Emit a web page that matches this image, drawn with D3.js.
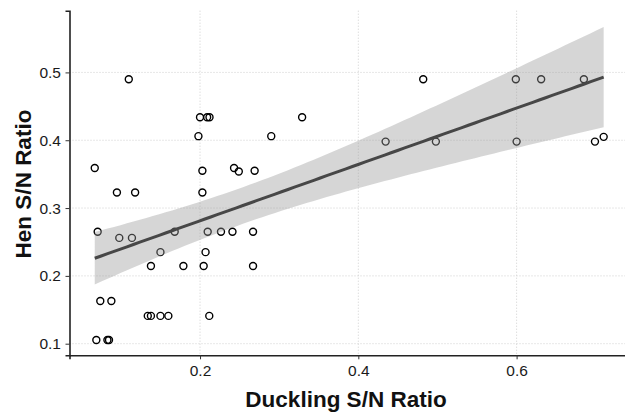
<!DOCTYPE html>
<html>
<head>
<meta charset="utf-8">
<script src="https://cdn.jsdelivr.net/npm/d3@7"></script>
<style>
  body { margin: 0; background: #fff; }
  svg { display: block; font-family: "Liberation Sans", Arial, sans-serif; }
</style>
</head>
<body>
<div class="vis-scatter"></div>
<script>
// duckling vs hen S/N ratio
const ducklingSN = [
  0.110, 0.200, 0.209, 0.212, 0.198, 0.067, 0.095, 0.118, 0.203, 0.203,
  0.243, 0.249, 0.269, 0.290, 0.329,
  0.482, 0.599, 0.631, 0.685, 0.4345, 0.498, 0.600, 0.699, 0.710,
  0.0707, 0.098, 0.114, 0.168, 0.150, 0.138, 0.179, 0.2046, 0.207, 0.2097,
  0.2265, 0.241, 0.267, 0.267, 0.074, 0.088, 0.134, 0.138, 0.150, 0.160,
  0.2117, 0.069, 0.083, 0.085
];
const henSN = [
  0.490, 0.434, 0.434, 0.434, 0.406, 0.359, 0.323, 0.323, 0.355, 0.323,
  0.359, 0.354, 0.355, 0.406, 0.434,
  0.490, 0.490, 0.490, 0.490, 0.398, 0.398, 0.398, 0.398, 0.405,
  0.265, 0.256, 0.256, 0.265, 0.235, 0.2146, 0.2146, 0.2146, 0.235, 0.265,
  0.265, 0.265, 0.265, 0.2146, 0.163, 0.163, 0.141, 0.141, 0.141, 0.141,
  0.141, 0.1055, 0.1055, 0.1055
];
const xTicks = [0.2, 0.4, 0.6];
const yTicks = [0.1, 0.2, 0.3, 0.4, 0.5];

const W = 625, H = 415;
const margin = { left: 69.5, right: 629, top: 10.7, bottom: 355.3 };

const svg = d3.select(".vis-scatter").append("svg")
  .attr("width", W).attr("height", H);

const x = d3.scaleLinear().domain([0.0351, 0.742]).range([margin.left, margin.right]);
const y = d3.scaleLinear().domain([0.0829, 0.591]).range([margin.bottom, margin.top]);

const data = ducklingSN.map((d, i) => ({ x: d, y: henSN[i] }));

// grid
svg.append("g").selectAll("line").data(xTicks).enter().append("line")
  .attr("x1", d => x(d)).attr("x2", d => x(d))
  .attr("y1", margin.top).attr("y2", margin.bottom)
  .attr("stroke", "#cfcfcf").attr("stroke-width", 1).attr("stroke-dasharray", "1,2");
svg.append("g").selectAll("line").data(yTicks).enter().append("line")
  .attr("x1", margin.left).attr("x2", margin.right)
  .attr("y1", d => y(d)).attr("y2", d => y(d))
  .attr("stroke", "#cfcfcf").attr("stroke-width", 1).attr("stroke-dasharray", "1,2");

// points
svg.append("g").selectAll("circle").data(data).enter().append("circle")
  .attr("cx", d => x(d.x)).attr("cy", d => y(d.y))
  .attr("r", 3.5)
  .attr("fill", "none").attr("stroke", "#000").attr("stroke-width", 1.4);

// linear fit + 95% band (like geom_smooth(method = "lm"))
const n = data.length;
const mx = d3.mean(data, d => d.x), my = d3.mean(data, d => d.y);
const sxx = d3.sum(data, d => (d.x - mx) ** 2);
const sxy = d3.sum(data, d => (d.x - mx) * (d.y - my));
const b = sxy / sxx, a = my - b * mx;
const sse = d3.sum(data, d => (d.y - a - b * d.x) ** 2);
const s = Math.sqrt(sse / (n - 2));
const tq = 2.013;
const xMin = d3.min(ducklingSN), xMax = d3.max(ducklingSN);
const xs = d3.range(80).map(i => xMin + i * (xMax - xMin) / 79);
const fit = xs.map(v => {
  const se = s * Math.sqrt(1 / n + (v - mx) ** 2 / sxx);
  const f = a + b * v;
  return { x: v, f: f, lo: f - tq * se, hi: f + tq * se };
});

svg.append("path").datum(fit)
  .attr("fill", "#999").attr("fill-opacity", 0.4)
  .attr("d", d3.area().x(d => x(d.x)).y0(d => y(d.lo)).y1(d => y(d.hi)));
svg.append("path").datum(fit)
  .attr("fill", "none").attr("stroke", "#474747").attr("stroke-width", 3)
  .attr("d", d3.line().x(d => x(d.x)).y(d => y(d.f)));

// axes
svg.append("g")
  .attr("transform", "translate(0," + margin.bottom + ")")
  .call(d3.axisBottom(x).tickValues(xTicks).tickSize(4).tickPadding(6).tickFormat(d3.format(".1f")))
  .call(g => g.select(".domain").attr("stroke", "#222").attr("stroke-width", 1.6))
  .call(g => g.selectAll(".tick line").attr("stroke", "#333").attr("stroke-width", 1))
  .selectAll("text").style("fill", "#1a1a1a").style("font-size", "15.5px");

svg.append("g")
  .attr("transform", "translate(" + margin.left + ",0)")
  .call(d3.axisLeft(y).tickValues(yTicks).tickSize(4).tickPadding(4.5).tickFormat(d3.format(".1f")))
  .call(g => g.select(".domain").attr("stroke", "#222").attr("stroke-width", 1.6))
  .call(g => g.selectAll(".tick line").attr("stroke", "#333").attr("stroke-width", 1))
  .selectAll("text").style("fill", "#1a1a1a").style("font-size", "15.5px");

// axis titles
svg.append("text")
  .attr("x", 346).attr("y", 407)
  .attr("text-anchor", "middle")
  .style("font-size", "22.5px").style("font-weight", "bold").style("fill", "#111")
  .text("Duckling S/N Ratio");

svg.append("text")
  .attr("transform", "translate(31," + ((margin.top + margin.bottom) / 2 + 1) + ") rotate(-90)")
  .attr("text-anchor", "middle")
  .style("font-size", "22.5px").style("font-weight", "bold").style("fill", "#111")
  .text("Hen S/N Ratio");
</script>
</body>
</html>
